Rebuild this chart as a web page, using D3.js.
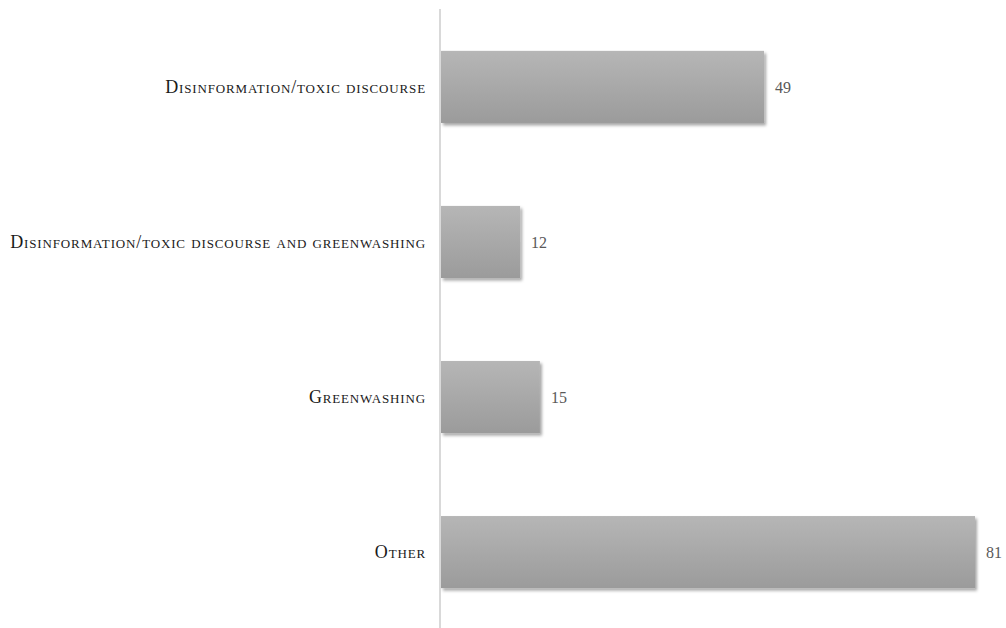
<!DOCTYPE html>
<html>
<head>
<meta charset="utf-8">
<script src="https://cdn.jsdelivr.net/npm/d3@7"></script>
<style>
  html, body { margin: 0; padding: 0; background: #fff; }
  svg { display: block; }
</style>
</head>
<body>
<svg id="chart" width="1006" height="628"></svg>
<script>
// Categories, top to bottom, and their counts
const categories = [
  "Disinformation/toxic discourse",
  "Disinformation/toxic discourse and greenwashing",
  "Greenwashing",
  "Other"
];
const values = [49, 12, 15, 81];

const width = 1006, height = 628;
const margin = { top: 9, right: 31, bottom: 0, left: 441 };

const svg = d3.select("#chart");

// Bar fill: light grey at the top fading to a darker grey
const defs = svg.append("defs");
const grad = defs.append("linearGradient")
  .attr("id", "barFill").attr("x1", 0).attr("y1", 0).attr("x2", 0).attr("y2", 1);
grad.append("stop").attr("offset", "0%").attr("stop-color", "#b6b6b6");
grad.append("stop").attr("offset", "100%").attr("stop-color", "#9b9b9b");

const shadow = defs.append("filter").attr("id", "barShadow")
  .attr("x", "-5%").attr("y", "-10%").attr("width", "115%").attr("height", "130%");
shadow.append("feDropShadow")
  .attr("dx", 2).attr("dy", 2.5).attr("stdDeviation", 1.6)
  .attr("flood-color", "#000").attr("flood-opacity", 0.35);

const x = d3.scaleLinear()
  .domain([0, 81])
  .range([margin.left, 975]);

const y = d3.scaleBand()
  .domain(categories)
  .range([margin.top, height + 2])
  .paddingInner(0.535)
  .paddingOuter(0.27);

// Bars
svg.append("g")
  .selectAll("rect")
  .data(values)
  .join("rect")
  .attr("x", x(0))
  .attr("y", (d, i) => y(categories[i]))
  .attr("width", d => x(d) - x(0))
  .attr("height", y.bandwidth())
  .attr("fill", "url(#barFill)")
  .attr("filter", "url(#barShadow)");

// Category axis: vertical rule with labels, no ticks
const yAxis = d3.axisLeft(y).tickSize(0).tickPadding(14);
const gy = svg.append("g")
  .attr("transform", `translate(${margin.left - 1},0)`)
  .call(yAxis);
gy.select(".domain")
  .attr("d", `M0,${margin.top}V${height}`)
  .attr("stroke", "#d9d9d9")
  .attr("stroke-width", 2);
gy.selectAll(".tick text")
  .attr("fill", "#1a1a1a")
  .attr("dy", "0.33em")
  .style("font-family", "'Liberation Serif', 'DejaVu Serif', serif")
  .style("font-size", "18px")
  .style("font-variant", "small-caps")
  .style("letter-spacing", "0.85px");

// Value labels at the end of each bar
svg.append("g")
  .selectAll("text")
  .data(values)
  .join("text")
  .attr("x", d => x(d) + 11)
  .attr("y", (d, i) => y(categories[i]) + y.bandwidth() / 2)
  .attr("dy", "0.35em")
  .attr("fill", "#595959")
  .style("font-family", "'Liberation Serif', 'DejaVu Serif', serif")
  .style("font-size", "16px")
  .text(d => d);
</script>
</body>
</html>
